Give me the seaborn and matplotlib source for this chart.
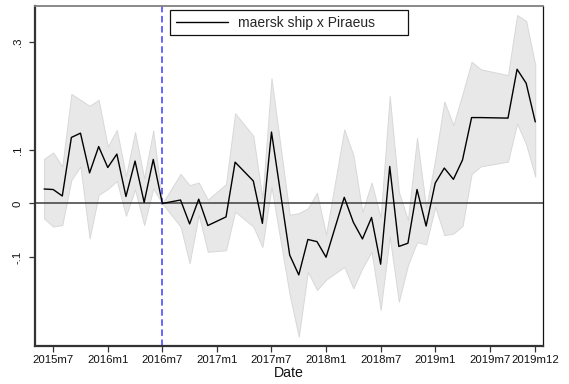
import numpy as np
import pandas as pd
import matplotlib
matplotlib.use("Agg")
import matplotlib.pyplot as plt
import seaborn as sns

# Event-study coefficients by month with 95% confidence bounds
months = ["2015m6", "2015m7", "2015m8", "2015m9", "2015m10", "2015m11", "2015m12",
          "2016m1", "2016m2", "2016m3", "2016m4", "2016m5", "2016m6", "2016m7",
          "2016m9", "2016m10", "2016m11", "2016m12", "2017m2", "2017m3", "2017m5",
          "2017m6", "2017m7", "2017m9", "2017m10", "2017m11", "2017m12", "2018m1",
          "2018m3", "2018m4", "2018m5", "2018m6", "2018m7", "2018m8", "2018m9",
          "2018m10", "2018m11", "2018m12", "2019m1", "2019m2", "2019m3", "2019m4",
          "2019m5", "2019m6", "2019m9", "2019m10", "2019m11", "2019m12"]
coef = [0.027, 0.026, 0.014, 0.123, 0.131, 0.057, 0.106,
        0.067, 0.092, 0.013, 0.079, 0.002, 0.082, 0.0,
        0.0065, -0.038, 0.008, -0.041, -0.025, 0.077, 0.042,
        -0.037, 0.133, -0.096, -0.133, -0.067, -0.071, -0.100,
        0.0115, -0.035, -0.066, -0.026, -0.113, 0.069, -0.080,
        -0.074, 0.026, -0.042, 0.038, 0.066, 0.045, 0.081,
        0.160, 0.160, 0.159, 0.250, 0.224, 0.152]
ci_hi = [0.083, 0.095, 0.069, 0.204, 0.193, 0.182, 0.193,
         0.106, 0.137, 0.051, 0.133, 0.047, 0.136, 0.0,
         0.055, 0.034, 0.039, 0.007, 0.036, 0.168, 0.126,
         0.010, 0.233, -0.021, -0.018, -0.009, 0.020, -0.058,
         0.138, 0.090, -0.016, 0.039, -0.026, 0.200, 0.022,
         -0.031, 0.122, -0.008, 0.082, 0.190, 0.146, 0.204,
         0.264, 0.250, 0.239, 0.351, 0.340, 0.258]
ci_lo = [-0.028, -0.043, -0.040, 0.044, 0.069, -0.065, 0.016,
         0.027, 0.042, -0.023, 0.026, -0.040, 0.028, 0.0,
         -0.043, -0.111, -0.021, -0.090, -0.087, -0.015, -0.043,
         -0.081, 0.031, -0.170, -0.248, -0.127, -0.161, -0.142,
         -0.118, -0.158, -0.120, -0.090, -0.198, -0.062, -0.183,
         -0.115, -0.072, -0.076, -0.006, -0.059, -0.056, -0.042,
         0.055, 0.069, 0.078, 0.149, 0.110, 0.050]

tick_labels = ["2015m7", "2016m1", "2016m7", "2017m1", "2017m7",
               "2018m1", "2018m7", "2019m1", "2019m7", "2019m12"]
ytick_vals = [-0.1, 0.0, 0.1, 0.3]
ytick_labels = ["-.1", "0", ".1", ".3"]
event_month = "2016m7"
series_name = "maersk ship x Piraeus"


def tm(s):
    """Stata-style monthly index: months since 1960m1."""
    y, m = s.split("m")
    return (int(y) - 1960) * 12 + int(m) - 1


df = pd.DataFrame({"t": [tm(s) for s in months], "coef": coef,
                   "hi": ci_hi, "lo": ci_lo})

sns.set_theme(style="white")
plt.rcParams["font.family"] = ["Liberation Sans", "DejaVu Sans"]

fig = plt.figure(figsize=(5.69, 3.84), dpi=100)
ax = fig.add_axes([35 / 569, 1 - 346 / 384, (543 - 35) / 569, (346 - 6) / 384])

ax.fill_between(df["t"], df["lo"], df["hi"], color="#e8e8e8",
                edgecolor="#d8d8d8", linewidth=0.7, zorder=1)
ax.axhline(0, color="#3c3c3c", lw=1.1, zorder=2)
ax.axvline(tm(event_month), color="#5a5aff", lw=1.3, dashes=(3.6, 2.0), zorder=2.5)
sns.lineplot(data=df, x="t", y="coef", ax=ax, color="black", lw=1.0,
             label=series_name, zorder=3, estimator=None, sort=False)

ax.set_xlim(664.0, 719.85)
ax.set_ylim(-0.2654, 0.3678)

ax.set_xticks([tm(s) for s in tick_labels])
ax.set_xticklabels(tick_labels, fontsize=8.2, color="#111111")
ax.set_yticks(ytick_vals)
ax.set_yticklabels(ytick_labels, fontsize=8.2, rotation=90, va="center",
                   color="#111111")
ax.tick_params(axis="both", which="major", direction="out", length=4.3,
               width=0.9, color="#333333", bottom=True, left=True)
ax.tick_params(axis="x", pad=2.5)
ax.tick_params(axis="y", pad=4.5)

ax.set_xlabel("Date", fontsize=10.2, labelpad=0.5, color="#111111")
ax.set_ylabel("")

for side in ("left", "bottom"):
    ax.spines[side].set_color("#333333")
    ax.spines[side].set_linewidth(1.6)
ax.spines["top"].set_color("#808080")
ax.spines["top"].set_linewidth(1.3)
ax.spines["right"].set_color("#111111")
ax.spines["right"].set_linewidth(0.9)

leg = ax.legend(loc="upper left", mode="expand",
                bbox_to_anchor=(170 / 569, 1 - 36 / 384, 238 / 569, 25.7 / 384),
                bbox_transform=fig.transFigure, borderaxespad=0,
                fontsize=10, handlelength=3.75, handletextpad=0.75,
                borderpad=0.4, fancybox=False, framealpha=1,
                edgecolor="#111111")
leg.get_frame().set_linewidth(0.9)

fig.savefig("out.png", dpi=100)
